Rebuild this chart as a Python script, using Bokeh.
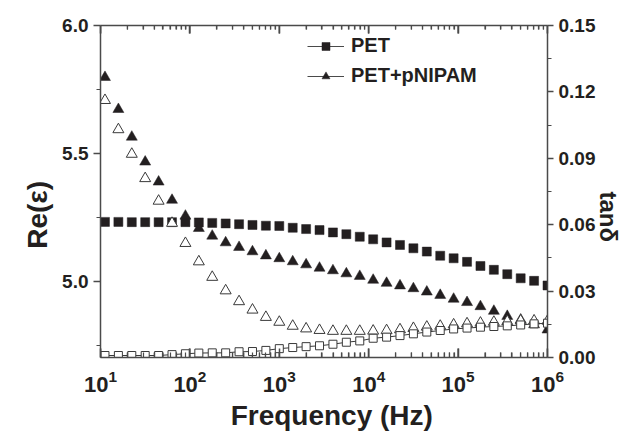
import math
from bokeh.plotting import figure
from bokeh.models import (ColumnDataSource, Range1d, LinearAxis, LogAxis, FixedTicker,
                          PrintfTickFormatter, Legend, LegendItem)
from bokeh.embed import file_html
from bokeh.resources import INLINE

# ---------------- data ----------------
freq = [11.22, 15.85, 22.39, 31.62, 44.67, 63.10, 89.13, 125.9, 177.8, 251.2,
        354.8, 501.2, 707.9, 1000, 1413, 1995, 2818, 3981, 5623, 7943,
        11220, 15849, 22387, 31623, 44668, 63096, 89125, 125893, 177828, 251189,
        354813, 501187, 707946, 1000000]

re_pet = [5.234, 5.234, 5.233, 5.233, 5.233, 5.233, 5.233, 5.232, 5.230, 5.228,
          5.225, 5.222, 5.219, 5.218, 5.211, 5.206, 5.202, 5.193, 5.186, 5.176,
          5.166, 5.154, 5.144, 5.131, 5.118, 5.102, 5.092, 5.078, 5.062, 5.047,
          5.030, 5.014, 5.004, 4.986]

re_pnipam = [5.798, 5.673, 5.565, 5.468, 5.390, 5.319, 5.257, 5.209, 5.179, 5.153,
             5.135, 5.118, 5.102, 5.091, 5.079, 5.067, 5.054, 5.044, 5.032, 5.022,
             5.007, 4.995, 4.985, 4.974, 4.961, 4.948, 4.933, 4.920, 4.904, 4.886,
             4.866, 4.852, 4.833, 4.813]

tan_pet = [0.0009, 0.0009, 0.0009, 0.0009, 0.0009, 0.0013, 0.0017, 0.0020, 0.0021, 0.0021,
           0.0026, 0.0027, 0.0032, 0.0040, 0.0045, 0.0049, 0.0053, 0.0060, 0.0069, 0.0075,
           0.0087, 0.0092, 0.0099, 0.0107, 0.0115, 0.0122, 0.0129, 0.0133, 0.0137, 0.0140,
           0.0143, 0.0147, 0.0152, 0.0155]

tan_pnipam = [0.1162, 0.1030, 0.0919, 0.0809, 0.0707, 0.0607, 0.0516, 0.0433, 0.0363, 0.0302,
              0.0253, 0.0215, 0.0182, 0.0160, 0.0142, 0.0130, 0.0123, 0.0119, 0.0119, 0.0119,
              0.0120, 0.0122, 0.0126, 0.0132, 0.0138, 0.0142, 0.0148, 0.0153, 0.0156, 0.0160,
              0.0163, 0.0166, 0.0166, 0.0165]

series_labels = ["PET", "PET+pNIPAM"]
axis_titles = ["Frequency (Hz)", "Re(ε)", "tanδ"]
x_major_ticks = [10, 100, 1000, 10000, 100000, 1000000]
x_minor_ticks = [m * 10 ** e for e in range(1, 6) for m in range(2, 10)]
left_major_ticks = [5.0, 5.5, 6.0]
left_minor_ticks = [4.75, 5.25, 5.75]
right_major_ticks = [0.0, 0.03, 0.06, 0.09, 0.12, 0.15]
right_minor_ticks = [0.015, 0.045, 0.075, 0.105, 0.135]
y_lo, y_hi = 4.705, 6.0

# ---------------- styling ----------------
DARK = "#231f20"
OPEN = "#3a3a3a"
AXC = "#4a4a4a"
FONT = "Liberation Sans"
NB = "\u00a0"

src = ColumnDataSource(dict(f=freq, re_pet=re_pet, re_pn=re_pnipam,
                            tan_pet=tan_pet, tan_pn=tan_pnipam))

p = figure(width=638, height=433, x_axis_type="log",
           x_range=Range1d(10, 1000000), y_range=Range1d(y_lo, y_hi),
           output_backend="svg", toolbar_location=None,
           min_border_left=100, min_border_right=86,
           min_border_top=25, min_border_bottom=75)
p.extra_y_ranges = {"tan": Range1d(0, 0.15)}
p.outline_line_color = None
p.xgrid.visible = False
p.ygrid.visible = False
p.background_fill_color = None
p.border_fill_color = None


def style(ax):
    ax.axis_line_color = AXC
    ax.axis_line_width = 1.5
    ax.major_tick_line_color = AXC
    ax.minor_tick_line_color = AXC
    ax.major_tick_line_width = 1.5
    ax.minor_tick_line_width = 1.2
    ax.major_label_text_font = FONT
    ax.major_label_text_font_style = "bold"
    ax.major_label_text_font_size = "19px"
    ax.major_label_text_color = DARK
    ax.axis_label_text_font = FONT
    ax.axis_label_text_font_style = "bold"
    ax.axis_label_text_color = DARK


xt = FixedTicker(ticks=x_major_ticks, minor_ticks=x_minor_ticks)

bx = p.xaxis[0]
style(bx)
bx.ticker = xt
bx.major_tick_in = 9
bx.major_tick_out = 0
bx.minor_tick_in = 5
bx.minor_tick_out = 0
bx.major_label_text_font_size = "22px"
bx.major_label_standoff = 12
bx.axis_label = NB * 2 + axis_titles[0]
bx.axis_label_text_font_size = "28px"
bx.axis_label_standoff = 5

tx = LogAxis(ticker=xt)
style(tx)
tx.major_tick_in = 8
tx.major_tick_out = 0
tx.minor_tick_in = 4
tx.minor_tick_out = 0
tx.major_label_text_font_size = "6px"
tx.major_label_text_color = None
tx.major_label_standoff = 0
p.add_layout(tx, "above")

ly = p.yaxis[0]
style(ly)
ly.ticker = FixedTicker(ticks=left_major_ticks, minor_ticks=left_minor_ticks)
ly.formatter = PrintfTickFormatter(format="%.1f")
ly.major_tick_out = 7
ly.major_tick_in = 0
ly.minor_tick_out = 4
ly.minor_tick_in = 0
ly.major_label_standoff = 5
ly.axis_label = axis_titles[1] + NB * 6
ly.axis_label_text_font_size = "28px"
ly.axis_label_standoff = 6

ry = LinearAxis(y_range_name="tan",
                ticker=FixedTicker(ticks=right_major_ticks, minor_ticks=right_minor_ticks),
                formatter=PrintfTickFormatter(format="%.2f"))
style(ry)
ry.major_tick_out = 6
ry.major_tick_in = 0
ry.minor_tick_out = 4
ry.minor_tick_in = 0
ry.major_label_standoff = 5
ry.axis_label = axis_titles[2]
ry.axis_label_text_font_size = "24px"
ry.axis_label_standoff = 10
ry.axis_label_orientation = -math.pi / 2
p.add_layout(ry, "right")

# inward tick marks along the bottom and top frame edges (from the tick lists)
n_maj, n_min = len(x_major_ticks), len(x_minor_ticks)
tick_maj = ColumnDataSource(dict(x=x_major_ticks, lo=[y_lo] * n_maj, hi=[y_hi] * n_maj))
tick_min = ColumnDataSource(dict(x=x_minor_ticks, lo=[y_lo] * n_min, hi=[y_hi] * n_min))
p.scatter(x="x", y="lo", source=tick_maj, marker="dash", angle=math.pi / 2, size=18,
          line_color=AXC, line_width=1.5)
p.scatter(x="x", y="lo", source=tick_min, marker="dash", angle=math.pi / 2, size=10,
          line_color=AXC, line_width=1.2)
p.scatter(x="x", y="hi", source=tick_maj, marker="dash", angle=math.pi / 2, size=16,
          line_color=AXC, line_width=1.5)
p.scatter(x="x", y="hi", source=tick_min, marker="dash", angle=math.pi / 2, size=8,
          line_color=AXC, line_width=1.2)

# ---------------- glyphs ----------------
sq = p.scatter(x="f", y="re_pet", source=src, marker="square", size=9,
               fill_color=DARK, line_color=DARK, line_width=0.5)
tri = p.scatter(x="f", y="re_pn", source=src, marker="triangle", size=11,
                fill_color=DARK, line_color=DARK, line_width=0.5)
p.scatter(x="f", y="tan_pn", source=src, y_range_name="tan", marker="triangle",
          size=11, fill_color="white", line_color=OPEN, line_width=1)
p.line(x="f", y="tan_pet", source=src, y_range_name="tan", line_color=OPEN, line_width=1)
p.scatter(x="f", y="tan_pet", source=src, y_range_name="tan", marker="square",
          size=8, fill_color="white", line_color=OPEN, line_width=1)

# legend line stubs (NaN point: nothing drawn in the plot, only the legend sample)
stub = ColumnDataSource(dict(x=[float("nan")], y=[float("nan")]))
l1 = p.line(x="x", y="y", source=stub, line_color=AXC, line_width=1)
l2 = p.line(x="x", y="y", source=stub, line_color=AXC, line_width=1)

legend = Legend(items=[LegendItem(label=series_labels[0], renderers=[l1, sq]),
                       LegendItem(label=series_labels[1], renderers=[l2, tri])],
                location=(207, 270), glyph_width=37, glyph_height=20,
                label_height=20, spacing=7, padding=0, margin=0,
                border_line_color=None, background_fill_alpha=0,
                label_standoff=7, label_text_font=FONT,
                label_text_font_style="bold", label_text_font_size="20px",
                label_text_color=DARK)
p.add_layout(legend)

open("out.html", "w").write(file_html(p, INLINE))
